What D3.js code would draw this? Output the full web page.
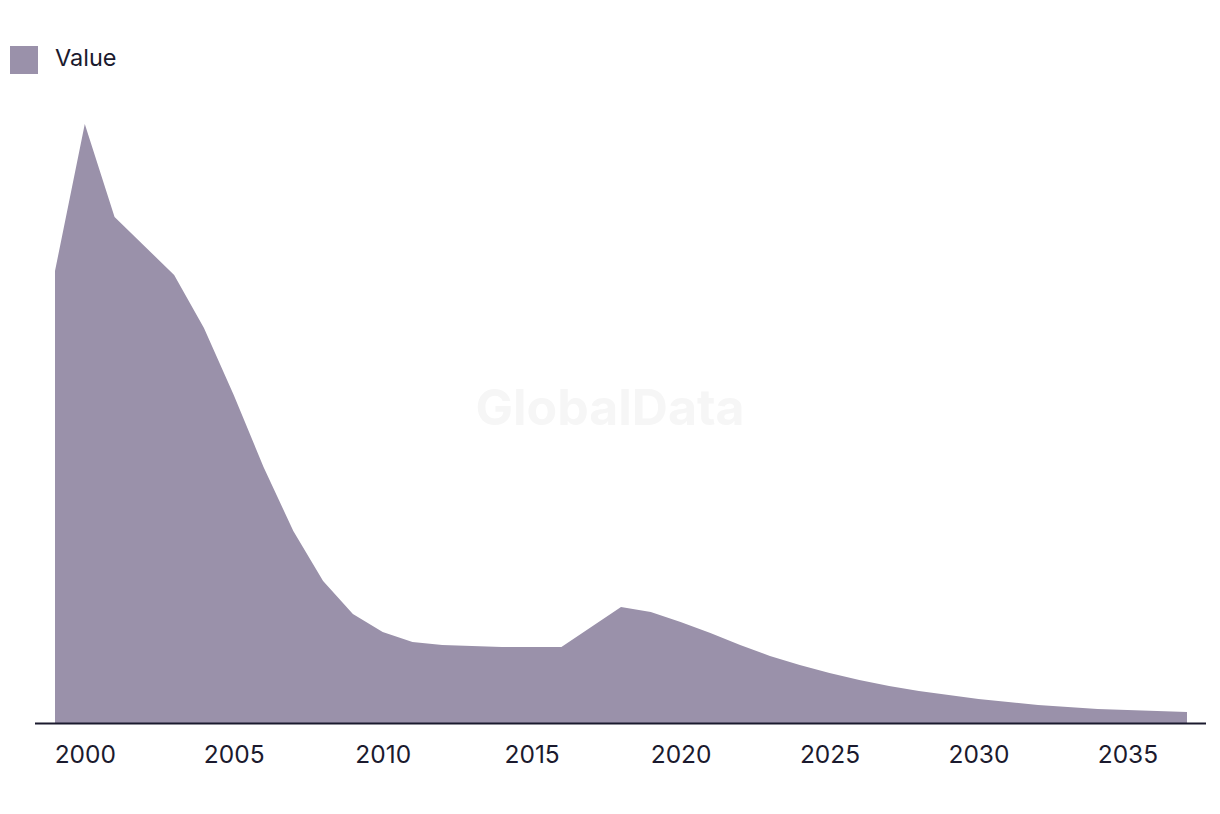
<!DOCTYPE html>
<html>
<head>
<meta charset="utf-8">
<script src="https://cdn.jsdelivr.net/npm/d3@7"></script>
<style>
  body { margin: 0; background: #fff; }
  svg { display: block; font-family: Inter, "Noto Sans", sans-serif; }
</style>
</head>
<body>
<script>
// data (arbitrary units)
var years = d3.range(1999, 2038)
var values = [452, 599, 506, 477, 448, 395, 328, 256, 192, 142,
              109, 91, 81, 78, 77, 76, 76, 76, 96, 116,
              111, 101, 90, 78, 67, 58, 50, 43, 37, 32,
              28, 24, 21, 18, 16, 14, 13, 12, 11]
var tickYears = [2000, 2005, 2010, 2015, 2020, 2025, 2030, 2035]
var seriesName = "Value"

var data = years.map((y, i) => ({year: y, value: values[i]}))

var width = 1220, height = 814
var svg = d3.select("body").append("svg")
    .attr("width", width)
    .attr("height", height)

var x = d3.scaleLinear().domain([1999, 2037]).range([55, 1187])
var y = d3.scaleLinear().domain([0, d3.max(values)]).range([723, 124])

// watermark
svg.append("text")
    .attr("x", 610).attr("y", 425)
    .attr("text-anchor", "middle")
    .attr("font-size", 50)
    .attr("font-weight", 700)
    .attr("fill", "#f6f6f6")
    .text("GlobalData")

var area = d3.area()
    .x(d => x(d.year))
    .y0(y(0))
    .y1(d => y(d.value))

svg.append("path")
    .datum(data)
    .attr("d", area)
    .attr("fill", "#9a91aa")

// baseline
svg.append("line")
    .attr("x1", 35).attr("x2", 1206)
    .attr("y1", y(0) + 0.5).attr("y2", y(0) + 0.5)
    .attr("stroke", "#1b1a2e")
    .attr("stroke-width", 2)

var axis = svg.append("g")
    .attr("transform", "translate(0," + y(0) + ")")
    .call(d3.axisBottom(x).tickValues(tickYears).tickFormat(d3.format("d")).tickSize(0).tickPadding(23))
axis.select(".domain").remove()
axis.selectAll("text")
    .attr("font-size", 24.5)
    .attr("font-family", "Inter, 'Noto Sans', sans-serif")
    .attr("fill", "#1b1a2e")

// legend
svg.append("rect")
    .attr("x", 10).attr("y", 46)
    .attr("width", 28).attr("height", 28)
    .attr("fill", "#9a91aa")
svg.append("text")
    .attr("x", 55).attr("y", 66)
    .attr("font-size", 23.5)
    .attr("fill", "#1b1a2e")
    .text(seriesName)
</script>
</body>
</html>
